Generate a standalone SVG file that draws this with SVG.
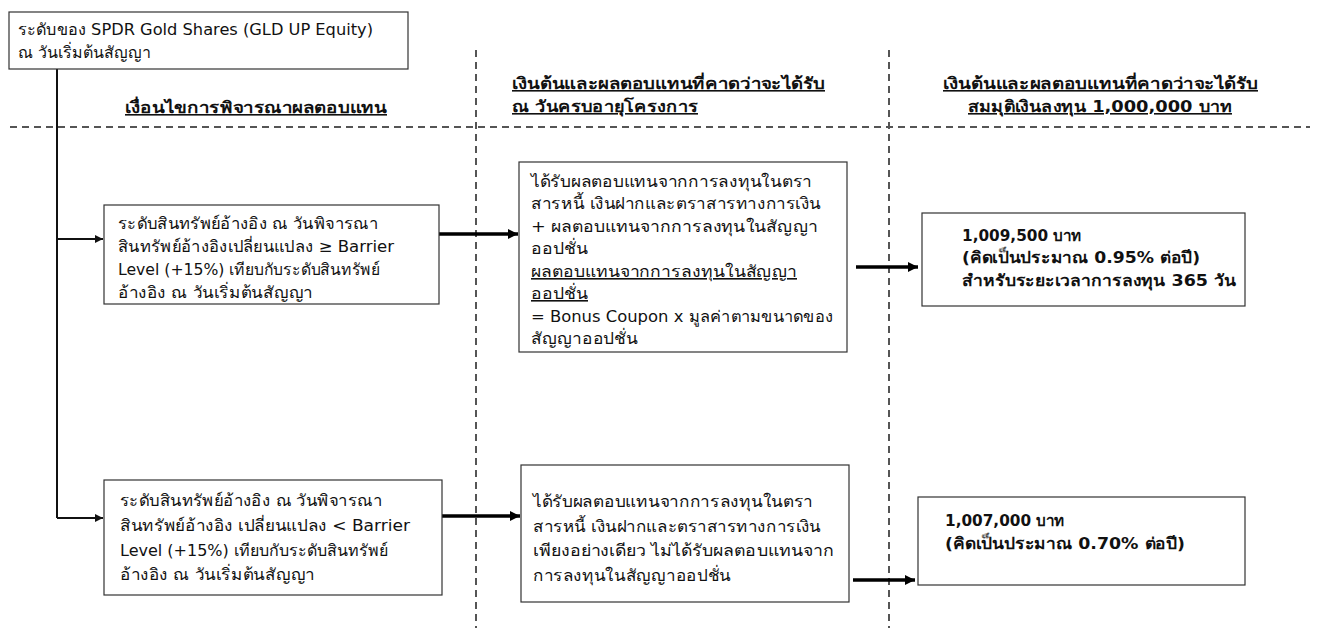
<svg xmlns="http://www.w3.org/2000/svg" width="1317" height="628" viewBox="0 0 1317 628">
<style>
text{font-family:Tahoma,"DejaVu Sans","Noto Sans","Liberation Sans",sans-serif;font-size:16px;fill:#111}
.b{font-weight:bold}
.u{text-decoration:underline}
.box{fill:#fff;stroke:#333;stroke-width:1.2}
.dash{stroke:#555;stroke-width:2;stroke-dasharray:7,5;fill:none}
.ln{stroke:#111;stroke-width:2;fill:none}
.th{stroke:#000;stroke-width:3.5;fill:none}
</style>
<defs>
<marker id="ah" viewBox="0 0 10 10" refX="10" refY="5" markerWidth="4" markerHeight="4" orient="auto" markerUnits="strokeWidth"><path d="M0,0L10,5L0,10z" fill="#111"/></marker>
<marker id="ah2" viewBox="0 0 10 10" refX="10" refY="5" markerWidth="3" markerHeight="3" orient="auto" markerUnits="strokeWidth"><path d="M0,0L10,5L0,10z" fill="#000"/></marker>
</defs>
<g id="guides">
<line class="dash" x1="10" y1="127" x2="1310" y2="127"/>
<line class="dash" x1="476" y1="50" x2="476" y2="628"/>
<line class="dash" x1="889" y1="50" x2="889" y2="628"/>
</g>
<g id="headers">
<text class="b u" x="125" y="113" textLength="262" lengthAdjust="spacingAndGlyphs">เงื่อนไขการพิจารณาผลตอบแทน</text>
<text class="b u" x="512" y="89" textLength="313" lengthAdjust="spacingAndGlyphs">เงินต้นและผลตอบแทนที่คาดว่าจะได้รับ</text>
<text class="b u" x="512" y="112" textLength="186" lengthAdjust="spacingAndGlyphs">ณ วันครบอายุโครงการ</text>
<text class="b u" x="943" y="89" textLength="315" lengthAdjust="spacingAndGlyphs">เงินต้นและผลตอบแทนที่คาดว่าจะได้รับ</text>
<text class="b u" x="968" y="112" textLength="264" lengthAdjust="spacingAndGlyphs">สมมุติเงินลงทุน 1,000,000 บาท</text>
</g>
<g id="connectors">
<polyline class="ln" points="57,69 57,518"/>
<line class="ln" x1="57" y1="239" x2="103" y2="239" marker-end="url(#ah)"/>
<line class="ln" x1="57" y1="518" x2="103" y2="518" marker-end="url(#ah)"/>
<line class="th" x1="439" y1="234" x2="518" y2="234" marker-end="url(#ah2)"/>
<line class="th" x1="856" y1="267" x2="918" y2="267" marker-end="url(#ah2)"/>
<line class="th" x1="442" y1="516" x2="520" y2="516" marker-end="url(#ah2)"/>
<line class="th" x1="853" y1="580" x2="915" y2="580" marker-end="url(#ah2)"/>
</g>
<g id="n0">
<rect class="box" x="9" y="12" width="399" height="57"/>
<text x="18" y="35" textLength="355" lengthAdjust="spacingAndGlyphs">ระดับของ SPDR Gold Shares (GLD UP Equity)</text>
<text x="18" y="58" textLength="133" lengthAdjust="spacingAndGlyphs">ณ วันเริ่มต้นสัญญา</text>
</g>
<g id="a1">
<rect class="box" x="104" y="205" width="335" height="99"/>
<text x="118" y="229" textLength="260" lengthAdjust="spacingAndGlyphs">ระดับสินทรัพย์อ้างอิง ณ วันพิจารณา</text>
<text x="118" y="252" textLength="276" lengthAdjust="spacingAndGlyphs">สินทรัพย์อ้างอิงเปลี่ยนแปลง ≥ Barrier</text>
<text x="118" y="275" textLength="262" lengthAdjust="spacingAndGlyphs">Level (+15%) เทียบกับระดับสินทรัพย์</text>
<text x="118" y="298" textLength="195" lengthAdjust="spacingAndGlyphs">อ้างอิง ณ วันเริ่มต้นสัญญา</text>
</g>
<g id="b1">
<rect class="box" x="519" y="162" width="328" height="190"/>
<text x="531" y="187" textLength="281" lengthAdjust="spacingAndGlyphs">ได้รับผลตอบแทนจากการลงทุนในตรา</text>
<text x="531" y="209" textLength="290" lengthAdjust="spacingAndGlyphs">สารหนี้ เงินฝากและตราสารทางการเงิน</text>
<text x="531" y="232" textLength="287" lengthAdjust="spacingAndGlyphs">+ ผลตอบแทนจากการลงทุนในสัญญา</text>
<text x="531" y="254" textLength="57" lengthAdjust="spacingAndGlyphs">ออปชั่น</text>
<text class="u" x="531" y="277" textLength="266" lengthAdjust="spacingAndGlyphs">ผลตอบแทนจากการลงทุนในสัญญา</text>
<text class="u" x="531" y="299" textLength="57" lengthAdjust="spacingAndGlyphs">ออปชั่น</text>
<text x="531" y="322" textLength="302" lengthAdjust="spacingAndGlyphs">= Bonus Coupon x มูลค่าตามขนาดของ</text>
<text x="531" y="344" textLength="107" lengthAdjust="spacingAndGlyphs">สัญญาออปชั่น</text>
</g>
<g id="c1">
<rect class="box" x="922" y="213" width="323" height="93"/>
<text class="b" x="962" y="241" textLength="120" lengthAdjust="spacingAndGlyphs">1,009,500 บาท</text>
<text class="b" x="962" y="263" textLength="238" lengthAdjust="spacingAndGlyphs">(คิดเป็นประมาณ 0.95% ต่อปี)</text>
<text class="b" x="962" y="286" textLength="274" lengthAdjust="spacingAndGlyphs">สำหรับระยะเวลาการลงทุน 365 วัน</text>
</g>
<g id="a2">
<rect class="box" x="104" y="480" width="338" height="115"/>
<text x="120" y="506" textLength="262" lengthAdjust="spacingAndGlyphs">ระดับสินทรัพย์อ้างอิง ณ วันพิจารณา</text>
<text x="120" y="531" textLength="290" lengthAdjust="spacingAndGlyphs">สินทรัพย์อ้างอิง เปลี่ยนแปลง &lt; Barrier</text>
<text x="120" y="556" textLength="268" lengthAdjust="spacingAndGlyphs">Level (+15%) เทียบกับระดับสินทรัพย์</text>
<text x="120" y="580" textLength="195" lengthAdjust="spacingAndGlyphs">อ้างอิง ณ วันเริ่มต้นสัญญา</text>
</g>
<g id="b2">
<rect class="box" x="521" y="465" width="328" height="137"/>
<text x="533" y="507" textLength="280" lengthAdjust="spacingAndGlyphs">ได้รับผลตอบแทนจากการลงทุนในตรา</text>
<text x="533" y="532" textLength="288" lengthAdjust="spacingAndGlyphs">สารหนี้ เงินฝากและตราสารทางการเงิน</text>
<text x="533" y="556" textLength="301" lengthAdjust="spacingAndGlyphs">เพียงอย่างเดียว ไม่ได้รับผลตอบแทนจาก</text>
<text x="533" y="581" textLength="198" lengthAdjust="spacingAndGlyphs">การลงทุนในสัญญาออปชั่น</text>
</g>
<g id="c2">
<rect class="box" x="918" y="497" width="327" height="88"/>
<text class="b" x="945" y="526" textLength="120" lengthAdjust="spacingAndGlyphs">1,007,000 บาท</text>
<text class="b" x="945" y="549" textLength="240" lengthAdjust="spacingAndGlyphs">(คิดเป็นประมาณ 0.70% ต่อปี)</text>
</g>
</svg>
